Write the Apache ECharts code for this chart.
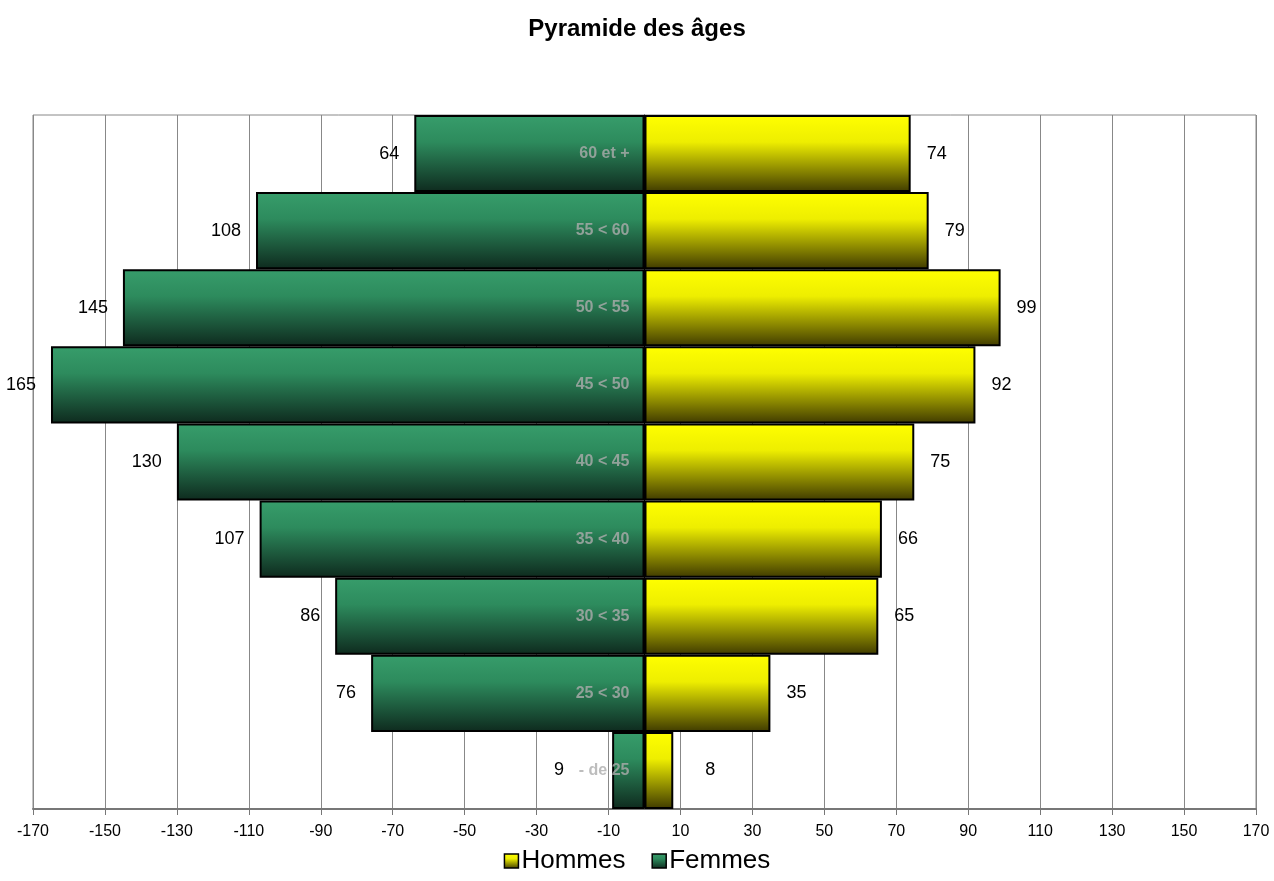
<!DOCTYPE html>
<html>
<head>
<meta charset="utf-8">
<script src="https://cdn.jsdelivr.net/npm/echarts@6/dist/echarts.min.js"></script>
<style>
  html, body { margin: 0; padding: 0; background: #fff; }
  #chart { width: 1274px; height: 881px; }
</style>
</head>
<body>
<div id="chart"></div>
<script>
// tranches d'âge, de bas en haut
var categories = ['- de 25', '25 < 30', '30 < 35', '35 < 40', '40 < 45', '45 < 50', '50 < 55', '55 < 60', '60 et +'];
var hommes = [8, 35, 65, 66, 75, 92, 99, 79, 74];
var femmes = [9, 76, 86, 107, 130, 165, 145, 108, 64];
var tickMin = -170, tickMax = 170, tickStep = 20;

var chart = echarts.init(document.getElementById('chart'));

// dégradés comme dans Excel
var jaune = new echarts.graphic.LinearGradient(0, 0, 0, 1, [
  { offset: 0, color: '#ffff00' },
  { offset: 0.35, color: '#eeee00' },
  { offset: 1, color: '#3f3a00' }
]);
var vert = new echarts.graphic.LinearGradient(0, 0, 0, 1, [
  { offset: 0, color: '#379d6b' },
  { offset: 0.35, color: '#2d8b5d' },
  { offset: 1, color: '#0e2a1e' }
]);

// barres trop courtes : on écarte l'étiquette du libellé de tranche
function barData(values, sign, farDist) {
  return values.map(function (v) {
    var item = { value: sign * v };
    if (v < 20) item.label = { distance: farDist };
    return item;
  });
}

var option = {
  textStyle: { fontFamily: 'Liberation Sans' },
  title: {
    text: 'Pyramide des âges',
    left: 'center',
    top: 12,
    textStyle: { fontSize: 24, fontWeight: 'bold', color: '#000' }
  },
  legend: {
    bottom: 2,
    left: 'center',
    icon: 'rect',
    itemWidth: 14,
    itemHeight: 14,
    itemGap: 26,
    textStyle: { fontSize: 26, color: '#000', padding: [0, 0, 0, -2] },
    itemStyle: { borderColor: '#000', borderWidth: 1.5 },
    data: ['Hommes', 'Femmes']
  },
  grid: {
    left: 33,
    right: 18,
    top: 115,
    bottom: 72,
    outerBoundsMode: 'none',
    containLabel: false,
    show: true,
    borderColor: '#888',
    borderWidth: 1
  },
  xAxis: {
    type: 'value',
    min: tickMin,
    max: tickMax,
    interval: tickStep,
    axisLine: { show: true, onZero: false, lineStyle: { color: '#777', width: 2 } },
    axisTick: { show: true, length: 6, lineStyle: { color: '#777' } },
    axisLabel: { fontSize: 16, color: '#000', margin: 15 },
    splitLine: { show: true, lineStyle: { color: '#888', width: 1 } }
  },
  yAxis: {
    type: 'category',
    data: categories,
    axisLine: { show: true, onZero: true, lineStyle: { color: '#000', width: 1 } },
    axisTick: { show: false },
    axisLabel: { show: false }
  },
  series: [
    {
      name: 'Hommes',
      type: 'bar',
      stack: 'pyr',
      barCategoryGap: 0,
      data: barData(hommes, 1, 32),
      itemStyle: { color: jaune, borderColor: '#000', borderWidth: 2 },
      label: {
        show: true,
        position: 'right',
        distance: 16,
        fontSize: 18,
        color: '#000'
      }
    },
    {
      name: 'Femmes',
      type: 'bar',
      stack: 'pyr',
      barCategoryGap: 0,
      data: barData(femmes, -1, 48),
      itemStyle: { color: vert, borderColor: '#000', borderWidth: 2 },
      label: {
        show: true,
        position: 'left',
        distance: 15,
        fontSize: 18,
        color: '#000',
        formatter: function (p) { return Math.abs(p.value); }
      }
    },
    {
      // libellés des tranches posés sur l'axe vertical (x = 0)
      name: 'tranches',
      type: 'scatter',
      z: 10,
      silent: true,
      symbolSize: 0,
      data: categories.map(function (c) { return [0, c]; }),
      label: {
        show: true,
        position: 'left',
        distance: 15,
        fontSize: 16,
        fontWeight: 'bold',
        color: '#acacac',
        formatter: function (p) { return p.value[1]; }
      }
    }
  ]
};

chart.setOption(option);
</script>
</body>
</html>
